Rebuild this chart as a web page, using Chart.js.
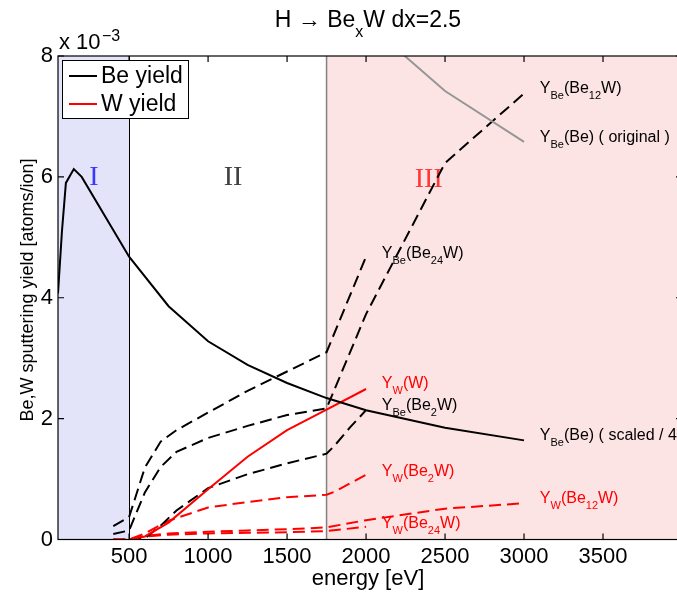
<!DOCTYPE html>
<html>
<head>
<meta charset="utf-8">
<script src="https://cdn.jsdelivr.net/npm/chart.js@4/dist/chart.umd.min.js"></script>
<style>
  html, body { margin: 0; padding: 0; overflow: hidden; background: #fff; }
  #wrap { width: 720px; height: 596px; }
</style>
</head>
<body>
<div id="wrap"><canvas id="yieldChart" width="720" height="596"></canvas></div>
<script>
// energies in eV, yields in units of 1e-3 atoms/ion

// Be yield on pure Be (scaled / 4) and the unscaled original
const beEnergy = [50, 75, 100, 150, 200, 500, 750, 1000, 1250, 1500, 1750, 2000, 2500, 3000];
const beYield = [4.07, 5.1, 5.9, 6.13, 6.0, 4.68, 3.86, 3.28, 2.89, 2.59, 2.34, 2.14, 1.85, 1.64];
const origEnergy = [2000, 2500, 3000];
const origYield = [8.56, 7.42, 6.58];

// W yield on pure W
const wEnergy = [500, 600, 750, 1000, 1250, 1500, 1750, 2000];
const wYield = [0, 0.05, 0.28, 0.83, 1.37, 1.81, 2.15, 2.49];

// Be yields on Be_xW
const be12Energy = [400, 500, 600, 700, 800, 1000, 1250, 1500, 1750, 2000, 2500, 3000];
const be12Yield = [0.09, 0.15, 0.78, 1.2, 1.45, 1.68, 1.88, 2.06, 2.17, 3.73, 6.23, 7.38];
const be24Energy = [400, 500, 600, 700, 800, 1000, 1250, 1500, 1750, 2000];
const be24Yield = [0.22, 0.37, 1.19, 1.62, 1.81, 2.1, 2.46, 2.78, 3.1, 4.68];
const be2Energy = [500, 600, 700, 800, 1000, 1250, 1500, 1750, 1800, 1900, 2000];
const be2Yield = [0, 0.02, 0.23, 0.48, 0.85, 1.08, 1.26, 1.42, 1.55, 1.86, 2.14];

// W yields on Be_xW
const w2Energy = [400, 500, 600, 750, 1000, 1250, 1500, 1750, 1800, 1900, 2000];
const w2Yield = [0, 0, 0.1, 0.31, 0.53, 0.62, 0.7, 0.74, 0.79, 0.93, 1.07];
const w12Energy = [400, 500, 600, 750, 1000, 1250, 1500, 1750, 2000, 2500, 3000];
const w12Yield = [0, 0, 0.06, 0.1, 0.13, 0.15, 0.17, 0.2, 0.32, 0.51, 0.6];
const w24Energy = [400, 500, 600, 750, 1000, 1250, 1500, 1750, 2000];
const w24Yield = [0, 0, 0.05, 0.08, 0.1, 0.11, 0.12, 0.14, 0.21];

// axes
const xTickValues = [500, 1000, 1500, 2000, 2500, 3000, 3500];
const yTickValues = [0, 2, 4, 6, 8];
const regionI = [50, 500];
const regionIII = [1750, 4000];

const toXY = (xs, ys) => xs.map((x, i) => ({ x: x, y: ys[i] }));

const SANS = '"Liberation Sans", Arial, sans-serif';
const SERIF = '"Liberation Serif", "Times New Roman", serif';

// text next to the curve ends: [parts, x, y, color]
const curveLabels = [
  [[["Y"], ["Be", 1], ["(Be"], ["12", 1], ["W)"]], 3100, 7.49, "#000"],
  [[["Y"], ["Be", 1], ["(Be) ( original )"]], 3100, 6.68, "#000"],
  [[["Y"], ["Be", 1], ["(Be"], ["24", 1], ["W)"]], 2100, 4.76, "#000"],
  [[["Y"], ["W", 1], ["(W)"]], 2100, 2.61, "#f00"],
  [[["Y"], ["Be", 1], ["(Be"], ["2", 1], ["W)"]], 2100, 2.25, "#000"],
  [[["Y"], ["Be", 1], ["(Be) ( scaled / 4 )"]], 3100, 1.75, "#000"],
  [[["Y"], ["W", 1], ["(Be"], ["2", 1], ["W)"]], 2100, 1.15, "#f00"],
  [[["Y"], ["W", 1], ["(Be"], ["12", 1], ["W)"]], 3100, 0.71, "#f00"],
  [[["Y"], ["W", 1], ["(Be"], ["24", 1], ["W)"]], 2100, 0.29, "#f00"]
];
const regionNames = [["I", 278, 5.98, "#3838ff"], ["II", 1158, 5.98, "#404040"], ["III", 2397, 5.95, "#ff3838"]];

const drawRich = (ctx, x, y, parts, size, subSize, subShift) => {
  let cx = x;
  parts.forEach(([t, sub]) => {
    ctx.font = (sub ? subSize : size) + "px " + SANS;
    ctx.fillText(t, cx, sub ? y + subShift : y);
    cx += ctx.measureText(t).width;
  });
  return cx - x;
};

const richWidth = (ctx, parts, size, subSize) => {
  let w = 0;
  parts.forEach(([t, sub]) => {
    ctx.font = (sub ? subSize : size) + "px " + SANS;
    w += ctx.measureText(t).width;
  });
  return w;
};

const backdrop = {
  id: "backdrop",
  beforeDatasetsDraw(chart) {
    const { ctx, chartArea: a, scales: { x, y } } = chart;
    ctx.save();
    ctx.fillStyle = "rgb(227,227,250)";
    ctx.fillRect(x.getPixelForValue(regionI[0]), a.top, x.getPixelForValue(regionI[1]) - x.getPixelForValue(regionI[0]), a.bottom - a.top);
    ctx.fillStyle = "rgb(253,228,228)";
    ctx.fillRect(x.getPixelForValue(regionIII[0]), a.top, x.getPixelForValue(regionIII[1]) - x.getPixelForValue(regionIII[0]), a.bottom - a.top);

    ctx.lineWidth = 1;
    ctx.strokeStyle = "#000";
    let px = Math.round(x.getPixelForValue(regionI[1])) + 0.5;
    ctx.beginPath(); ctx.moveTo(px, a.top); ctx.lineTo(px, a.bottom); ctx.stroke();
    ctx.lineWidth = 1.5;
    ctx.strokeStyle = "rgb(130,130,130)";
    px = x.getPixelForValue(regionIII[0]);
    ctx.beginPath(); ctx.moveTo(px, a.top); ctx.lineTo(px, a.bottom); ctx.stroke();

    // region numerals
    ctx.textAlign = "center";
    ctx.textBaseline = "middle";
    ctx.font = "28px " + SERIF;
    regionNames.forEach(([t, ex, ey, c]) => {
      ctx.fillStyle = c;
      ctx.fillText(t, x.getPixelForValue(ex), y.getPixelForValue(ey));
    });

    // curve labels
    ctx.textAlign = "left";
    ctx.textBaseline = "alphabetic";
    curveLabels.forEach(([parts, ex, ey, c]) => {
      ctx.fillStyle = c;
      drawRich(ctx, x.getPixelForValue(ex), y.getPixelForValue(ey) + 6, parts, 16, 11, 6);
    });
    ctx.restore();
  }
};

const frame = {
  id: "frame",
  afterDraw(chart) {
    const { ctx, chartArea: a, scales: { x, y } } = chart;
    ctx.save();
    ctx.strokeStyle = "#000";
    ctx.lineWidth = 1.2;
    ctx.strokeRect(a.left, a.top, a.right - a.left, a.bottom - a.top);
    ctx.beginPath();
    xTickValues.forEach((v) => {
      const px = x.getPixelForValue(v);
      ctx.moveTo(px, a.bottom); ctx.lineTo(px, a.bottom - 6);
      ctx.moveTo(px, a.top); ctx.lineTo(px, a.top + 6);
    });
    yTickValues.forEach((v) => {
      const py = y.getPixelForValue(v);
      ctx.moveTo(a.left, py); ctx.lineTo(a.left + 6, py);
      ctx.moveTo(a.right, py); ctx.lineTo(a.right - 6, py);
    });
    ctx.stroke();

    // legend
    const lx = 62.5, ly = 60.5;
    ctx.fillStyle = "#fff";
    ctx.fillRect(lx, ly, 126, 58);
    ctx.lineWidth = 1;
    ctx.strokeRect(lx, ly, 126, 58);
    const legendItems = chart.data.datasets.filter((d) => d.inLegend);
    legendItems.forEach((d, i) => {
      const yy = 76 + i * 28;
      ctx.strokeStyle = d.borderColor;
      ctx.lineWidth = 2;
      ctx.beginPath(); ctx.moveTo(69, yy); ctx.lineTo(97, yy); ctx.stroke();
      ctx.fillStyle = "#000";
      ctx.font = "23px " + SANS;
      ctx.textBaseline = "middle";
      ctx.textAlign = "left";
      ctx.fillText(d.label, 101, yy + 1);
    });

    // title
    ctx.fillStyle = "#000";
    ctx.textBaseline = "alphabetic";
    const titleParts = [["H \u2192 Be"], ["x", 1], ["W dx=2.5"]];
    const cx = (a.left + a.right) / 2 - 2;
    const tw = richWidth(ctx, titleParts, 23, 16);
    drawRich(ctx, cx - tw / 2, 27, titleParts, 23, 16, 10);

    // exponent
    ctx.font = "22px " + SANS;
    ctx.fillText("x 10", 59, 49);
    ctx.font = "16px " + SANS;
    ctx.fillText("\u22123", 102, 41);

    // axis titles
    ctx.font = "22px " + SANS;
    ctx.textAlign = "center";
    ctx.textBaseline = "middle";
    ctx.fillText("energy [eV]", cx, 579);
    ctx.save();
    ctx.translate(28, 290);
    ctx.rotate(-Math.PI / 2);
    ctx.font = "18px " + SANS;
    ctx.fillText("Be,W sputtering yield [atoms/ion]", 0, 0);
    ctx.restore();
    ctx.restore();
  }
};

const dashed = [12, 6];
const line = (label, xs, ys, color, width, dash, inLegend) => ({
  label: label,
  data: toXY(xs, ys),
  borderColor: color,
  borderWidth: width,
  borderDash: dash,
  pointRadius: 0,
  fill: false,
  tension: 0,
  inLegend: inLegend
});

const initChart = () => {
  const ctx = document.getElementById("yieldChart").getContext("2d");
  return new Chart(ctx, {
    type: "line",
    data: {
      datasets: [
        line("Be yield", beEnergy, beYield, "#000", 2, [], true),
        line("W yield", wEnergy, wYield, "#f00", 2, [], true),
        line("Be original", origEnergy, origYield, "rgb(150,150,150)", 2, [], false),
        line("Be on Be12W", be12Energy, be12Yield, "#000", 2, dashed, false),
        line("Be on Be24W", be24Energy, be24Yield, "#000", 2, dashed, false),
        line("Be on Be2W", be2Energy, be2Yield, "#000", 2, dashed, false),
        line("W on Be2W", w2Energy, w2Yield, "#f00", 2, dashed, false),
        line("W on Be12W", w12Energy, w12Yield, "#f00", 2, dashed, false),
        line("W on Be24W", w24Energy, w24Yield, "#f00", 2, dashed, false)
      ]
    },
    options: {
      responsive: false,
      animation: false,
      layout: { padding: { top: 56, right: 38, left: 0, bottom: 0 } },
      plugins: { legend: { display: false }, tooltip: { enabled: false } },
      scales: {
        x: {
          type: "linear",
          min: regionI[0],
          max: regionIII[1],
          grid: { display: false, drawTicks: false },
          border: { display: false },
          afterBuildTicks: (s) => { s.ticks = xTickValues.map((v) => ({ value: v })); },
          afterFit: (s) => { s.height = 56.5; },
          ticks: { color: "#000", font: { family: SANS, size: 22 }, padding: 4, maxRotation: 0, autoSkip: false, callback: (v) => String(v) }
        },
        y: {
          min: 0,
          max: 8,
          grid: { display: false, drawTicks: false },
          border: { display: false },
          afterBuildTicks: (s) => { s.ticks = yTickValues.map((v) => ({ value: v })); },
          afterFit: (s) => { s.width = 58; },
          ticks: { color: "#000", font: { family: SANS, size: 22 }, padding: 5, callback: (v) => String(v) }
        }
      }
    },
    plugins: [backdrop, frame]
  });
};

initChart();
</script>
</body>
</html>
